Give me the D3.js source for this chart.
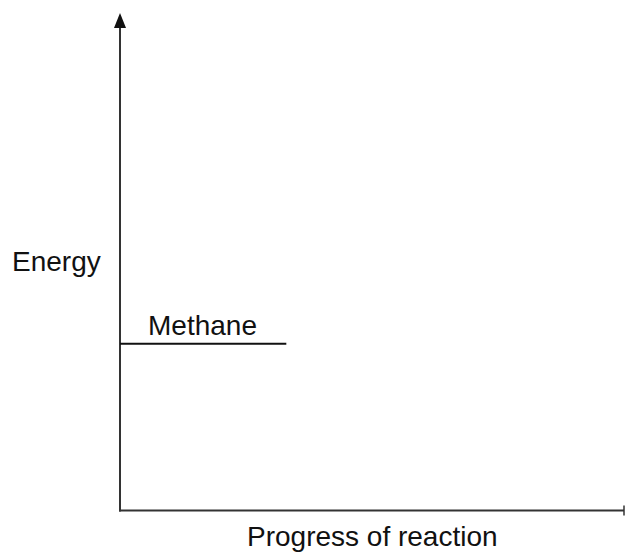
<!DOCTYPE html>
<html>
<head>
<meta charset="utf-8">
<script src="https://cdn.jsdelivr.net/npm/d3@7"></script>
<style>
  body { margin: 0; background: #fff; }
  text { font-family: "Liberation Sans", Arial, sans-serif; fill: #111; }
</style>
</head>
<body>
<div id="chart"></div>
<script>
// energy levels (arbitrary units)
const levelNames = ['Methane']
const levelEnergy = [33.5]
const levelStart = [0]
const levelEnd = [33]
const axisLabels = { x: 'Progress of reaction', y: 'Energy' }

const params = {
  width: 626,
  height: 554,
  left: 120,
  right: 624,
  top: 13,
  bottom: 510.5,
}

const svg = d3.select('#chart')
  .append('svg')
  .attr('width', params.width)
  .attr('height', params.height)

const x = d3.scaleLinear().domain([0, 100]).range([params.left, params.right])
const y = d3.scaleLinear().domain([0, 100]).range([params.bottom, params.top])

// axes
svg.append('line')
  .attr('x1', x(0)).attr('x2', x(0))
  .attr('y1', y(0) + 1).attr('y2', y(100) + 12)
  .attr('stroke', '#333').attr('stroke-width', 2)

svg.append('line')
  .attr('x1', x(0) - 1).attr('x2', x(100))
  .attr('y1', y(0)).attr('y2', y(0))
  .attr('stroke', '#333').attr('stroke-width', 2)

// arrow head on energy axis
svg.append('path')
  .attr('d', `M${x(0)},${y(100)} L${x(0) - 6},${y(100) + 15} L${x(0) + 6},${y(100) + 15} Z`)
  .attr('fill', '#111')

// small end mark on progress axis
svg.append('line')
  .attr('x1', x(100)).attr('x2', x(100))
  .attr('y1', y(0) - 5).attr('y2', y(0) + 5)
  .attr('stroke', '#333').attr('stroke-width', 1.5)

// levels
const levels = levelNames.map((name, i) => ({
  name, e: levelEnergy[i], s: levelStart[i], t: levelEnd[i]
}))

svg.selectAll('line.level')
  .data(levels)
  .enter()
  .append('line')
  .attr('class', 'level')
  .attr('x1', d => x(d.s)).attr('x2', d => x(d.t))
  .attr('y1', d => y(d.e)).attr('y2', d => y(d.e))
  .attr('stroke', '#111').attr('stroke-width', 2)

svg.selectAll('text.level')
  .data(levels)
  .enter()
  .append('text')
  .attr('class', 'level')
  .attr('x', d => x(d.s) + 28)
  .attr('y', d => y(d.e) - 9)
  .style('font-size', '28px')
  .text(d => d.name)

// axis titles
svg.append('text')
  .attr('x', 12).attr('y', 271)
  .style('font-size', '28px')
  .text(axisLabels.y)

svg.append('text')
  .attr('x', 247).attr('y', 546)
  .style('font-size', '28px')
  .text(axisLabels.x)
</script>
</body>
</html>
